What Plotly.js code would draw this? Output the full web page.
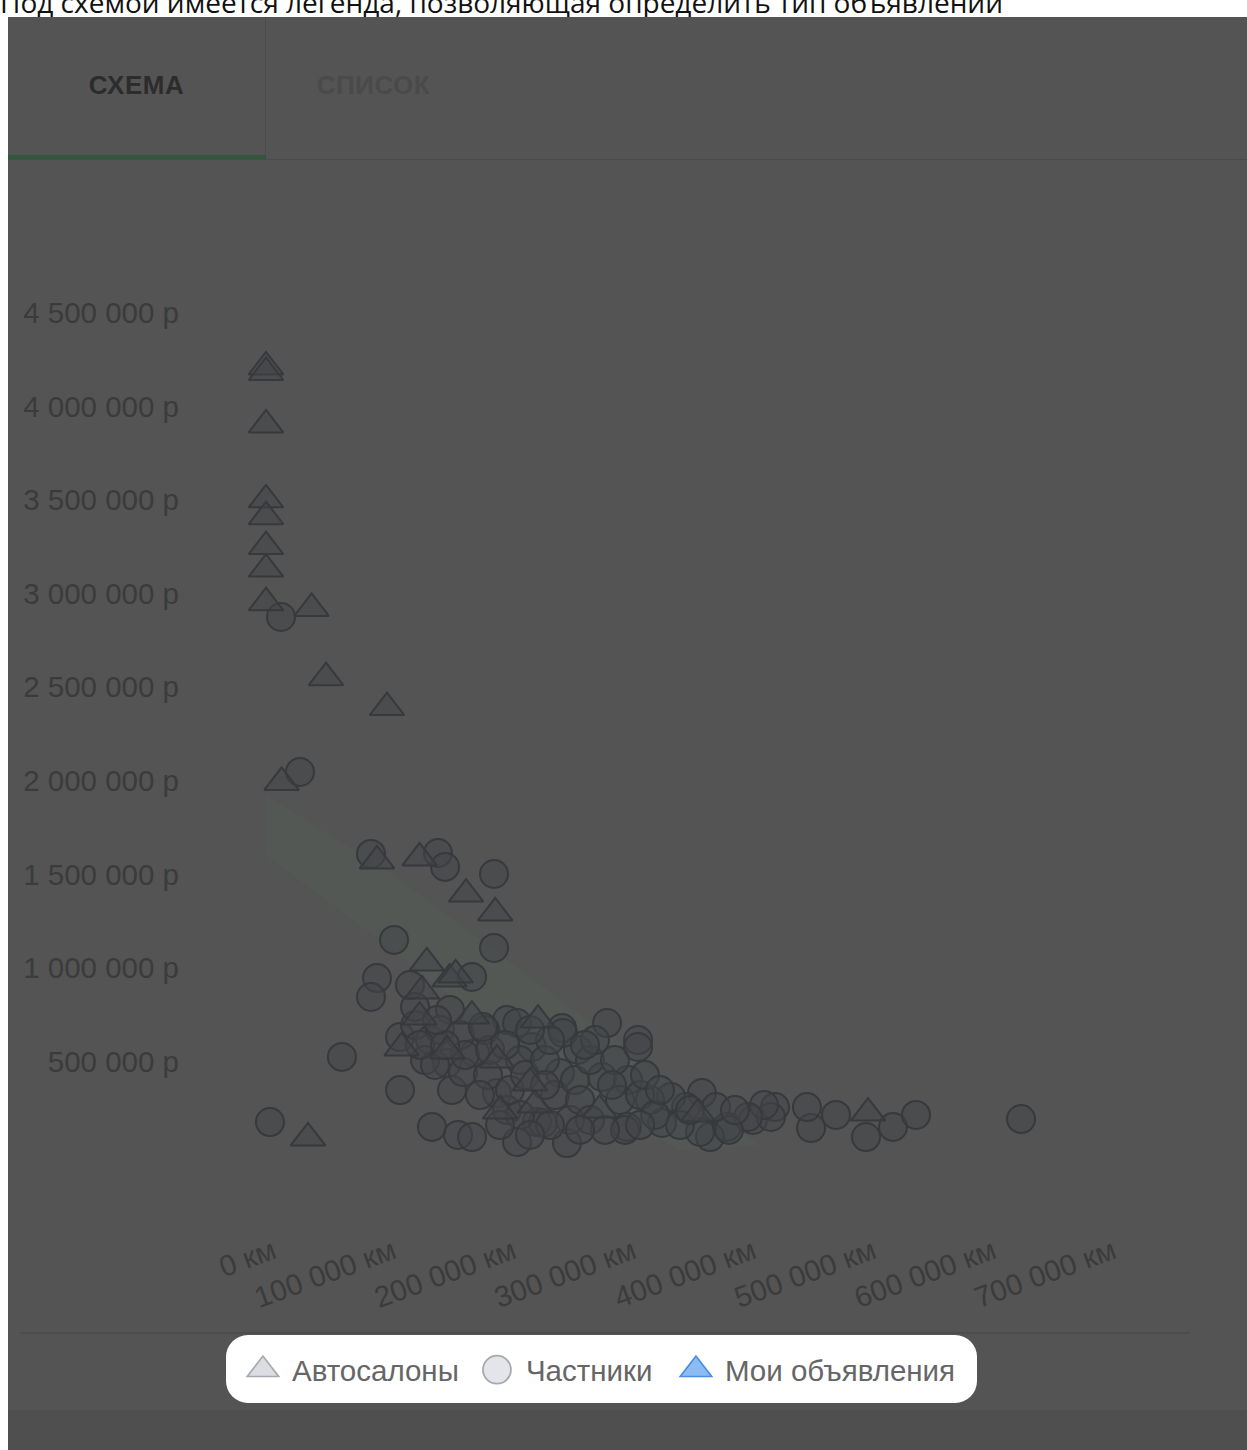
<!DOCTYPE html>
<html>
<head>
<meta charset="utf-8">
<script src="https://cdn.plot.ly/plotly-3.0.1.min.js"></script>
<style>
  html, body { margin:0; padding:0; background:#ffffff; width:1247px; height:1450px; overflow:hidden; }
  .abs { position:absolute; }
  #caption { left:0; top:-12px; font-family:"Open Sans", sans-serif; font-size:28px; line-height:28px; color:#111; white-space:nowrap; }
  #frame { left:8px; top:17px; width:1239px; height:1433px; background:#545454; }
  #bottomband { left:8px; top:1410px; width:1239px; height:40px; background:#4f4f4f; }
  .tab { top:67px; height:36px; line-height:36px; font-family:"Liberation Sans", Arial, sans-serif; font-weight:bold; font-size:26px; letter-spacing:0.5px; text-align:center; }
  #tab1 { left:8px; width:257px; color:#2c2c2c; }
  #tab2 { left:266px; width:215px; color:#4a4a4a; }
  #vsep { left:265px; top:17px; width:1px; height:141px; background:#4b4b4b; }
  #tabline { left:8px; top:159px; width:1239px; height:1px; background:#4a4a4a; }
  #tabactive { left:8px; top:155px; width:258px; height:4px; background:#30573c; }
  #axisline { left:20px; top:1332px; width:1170px; height:2px; background:#4c4c4c; }
  #legendbox { left:226px; top:1335px; width:751px; height:68px; background:#ffffff; border-radius:22px; }
  #chart { left:0; top:0; width:1247px; height:1450px; }
</style>
</head>
<body>
<div id="caption" class="abs">Под схемой имеется легенда, позволяющая определить тип объявлений</div>
<div id="frame" class="abs"></div>
<div id="bottomband" class="abs"></div>
<div id="tab1" class="abs tab">СХЕМА</div>
<div id="tab2" class="abs tab">СПИСОК</div>
<div id="vsep" class="abs"></div>
<div id="tabline" class="abs"></div>
<div id="tabactive" class="abs"></div>
<div id="axisline" class="abs"></div>
<div id="legendbox" class="abs"></div>
<div id="chart" class="abs"></div>
<script>
// ---- Data (mileage in km, price in roubles) ----
const seriesNames = ["Автосалоны", "Частники", "Мои объявления"];

const dealerKm = [0, 0, 0, 0, 0, 0, 0, 0, 38000, 50000, 100800, 13000, 92500, 128000, 166700, 191000,
  134000, 153000, 158000, 130000, 128000, 171600, 113000, 151000, 192500, 226700, 220000, 224000,
  195000, 278000, 360000, 501700, 35000];
const dealerPrice = [4210000, 4180000, 3900000, 3500000, 3410000, 3250000, 3130000, 2950000, 2920000,
  2550000, 2390000, 1990000, 1571000, 1587000, 1394000, 1293000, 1026000, 940000, 962000, 876000,
  737000, 742000, 572000, 556000, 507000, 721000, 385000, 267000, 235000, 240000, 219000, 224000, 91000];

const privateKm = [12500, 28300, 87500, 143300, 149200, 190000, 106700, 190000, 92500, 87500, 171700,
  63300, 111700, 153300, 150800, 174200, 111700, 155000, 3300, 138300, 160000, 171700, 209200, 200800,
  209200, 246700, 260000, 284200, 310000, 310000, 245000, 280000, 301700, 225800, 250800, 300800,
  330000, 363300, 384200, 405800, 370000, 500000, 522500, 541700, 629200, 475000, 454200, 450800,
  424200, 420800, 415000, 401700, 375000, 350000, 337500, 320000, 361700, 221700, 230800, 299200,
  385800, 247500, 253300, 192500, 200800, 164200, 185000, 124200, 136700, 132500, 145000, 161700,
  165800, 182500, 186700, 178300, 203300, 211700, 215800, 232500, 236700, 240800, 257500, 261700,
  270000, 274200, 290800, 295000, 311700, 324200, 315800, 211700, 195000, 236700, 270000, 282500,
  311700, 345000, 353300, 390800, 261700, 220000, 140800, 128300, 149200, 199200, 220000, 232500,
  265800, 288300, 328300, 120000, 124200, 142500, 180800];
const privatePrice = [2874000, 2046000, 1608000, 1613000, 1539000, 1501000, 1149000, 1106000, 945000,
  844000, 951000, 524000, 630000, 775000, 491000, 545000, 347000, 347000, 176000, 150000, 107000,
  96000, 69000, 721000, 705000, 678000, 561000, 705000, 614000, 577000, 438000, 417000, 400000,
  176000, 64000, 150000, 171000, 331000, 150000, 187000, 96000, 96000, 150000, 214000, 192000,
  214000, 144000, 256000, 256000, 203000, 267000, 203000, 256000, 256000, 310000, 294000, 123000,
  577000, 171000, 134000, 134000, 652000, 187000, 331000, 240000, 443000, 427000, 694000, 614000,
  507000, 668000, 641000, 534000, 668000, 561000, 320000, 347000, 507000, 427000, 507000, 614000,
  320000, 400000, 294000, 507000, 614000, 507000, 294000, 320000, 214000, 427000, 214000, 160000,
  160000, 187000, 134000, 160000, 160000, 240000, 240000, 134000, 107000, 481000, 588000, 588000,
  588000, 668000, 374000, 588000, 374000, 347000, 908000, 791000, 721000, 684000];

// Shaded "market price" band (upper and lower edges)
const bandUpperKm = [0, 111700, 200800, 255800, 345000, 411700];
const bandUpperPrice = [1923000, 1469000, 1042000, 775000, 347000, 53000];
const bandLowerKm = [0, 95000, 178300, 278300, 345000];
const bandLowerPrice = [1603000, 1149000, 721000, 240000, 27000];

// Tick labels
const xTickVals = [0, 100000, 200000, 300000, 400000, 500000, 600000, 700000];
const xTickText = ["0 км", "100 000 км", "200 000 км", "300 000 км", "400 000 км", "500 000 км", "600 000 км", "700 000 км"];
const yTickVals = [500000, 1000000, 1500000, 2000000, 2500000, 3000000, 3500000, 4000000, 4500000];
const yTickText = ["500 000 р", "1 000 000 р", "1 500 000 р", "2 000 000 р", "2 500 000 р", "3 000 000 р", "3 500 000 р", "4 000 000 р", "4 500 000 р"];

// ---- Traces ----
const dimFill = "rgba(66,67,71,0.5)";
const dimLine = "#38393c";

const band = {
  type: "scatter", mode: "lines",
  x: bandUpperKm.concat(bandLowerKm.slice().reverse()),
  y: bandUpperPrice.concat(bandLowerPrice.slice().reverse()),
  fill: "toself", fillcolor: "rgba(80,125,95,0.12)",
  line: {width: 0, color: "rgba(0,0,0,0)"},
  showlegend: false, hoverinfo: "skip"
};
const privTrace = {
  type: "scatter", mode: "markers", name: seriesNames[1], showlegend: false,
  x: privateKm, y: privatePrice,
  marker: {symbol: "circle", size: 28, color: dimFill, line: {color: dimLine, width: 2}}
};
const dealerTrace = {
  type: "scatter", mode: "markers", name: seriesNames[0], showlegend: false,
  x: dealerKm, y: dealerPrice,
  marker: {symbol: "triangle-up", size: 30, color: dimFill, line: {color: dimLine, width: 2}}
};
// Legend entries (undimmed style, as in the highlighted legend)
const legDealer = {type: "scatter", mode: "markers", name: seriesNames[0], x: [null], y: [null], legendwidth: 171,
  marker: {symbol: "triangle-up", size: 16, color: "#dcdde3", line: {color: "#a7a9b0", width: 1}}};
const legPrivate = {type: "scatter", mode: "markers", name: seriesNames[1], x: [null], y: [null], legendwidth: 136,
  marker: {symbol: "circle", size: 16, color: "#e4e5ea", line: {color: "#a7a9b0", width: 1}}};
const legMine = {type: "scatter", mode: "markers", name: seriesNames[2], x: [null], y: [null],
  marker: {symbol: "triangle-up", size: 16, color: "#8dbcf2", line: {color: "#4a8ee0", width: 1}}};

const tickFont = {family: "Liberation Sans, Arial, sans-serif", size: 29.5, color: "#3b3b3b"};

const layout = {
  width: 1247, height: 1450,
  paper_bgcolor: "rgba(0,0,0,0)", plot_bgcolor: "rgba(0,0,0,0)",
  margin: {l: 200, r: 57, t: 200, b: 250, pad: 0},
  showlegend: true,
  xaxis: {
    range: [-55000, 770000], showgrid: false, zeroline: false, showline: false, ticks: "",
    tickmode: "array", tickvals: xTickVals, ticktext: xTickText, tickangle: -20,
    tickfont: tickFont, ticklabelstandoff: 28, ticklabelshift: 7, automargin: false, fixedrange: true
  },
  yaxis: {
    range: [-240385, 5101496], showgrid: false, zeroline: false, showline: false, ticks: "",
    tickmode: "array", tickvals: yTickVals, ticktext: yTickText,
    tickfont: tickFont, ticklabelstandoff: 20, automargin: false, fixedrange: true
  },
  legend: {
    orientation: "h", x: 0.0343, xanchor: "left", y: -0.17, yanchor: "middle",
    bgcolor: "rgba(0,0,0,0)", borderwidth: 0, itemwidth: 48,
    font: {family: "Liberation Sans, Arial, sans-serif", size: 29.5, color: "#666666"},
    itemclick: false, itemdoubleclick: false
  }
};

const legendSymbolScale = [1.7, 1.75, 1.7];

Plotly.newPlot("chart", [band, privTrace, dealerTrace, legDealer, legPrivate, legMine], layout,
  {staticPlot: true, displayModeBar: false}).then(function (gd) {
  // enlarge the legend symbols (Plotly caps legend marker size at 16px)
  gd.querySelectorAll(".legend .traces").forEach(function (g, i) {
    const s = legendSymbolScale[i] || 1;
    g.querySelectorAll(".legendpoints path.scatterpts").forEach(function (p) {
      const t = p.getAttribute("transform") || "";
      p.setAttribute("transform", t + " scale(" + s + ")");
    });
  });
});
</script>
</body>
</html>
